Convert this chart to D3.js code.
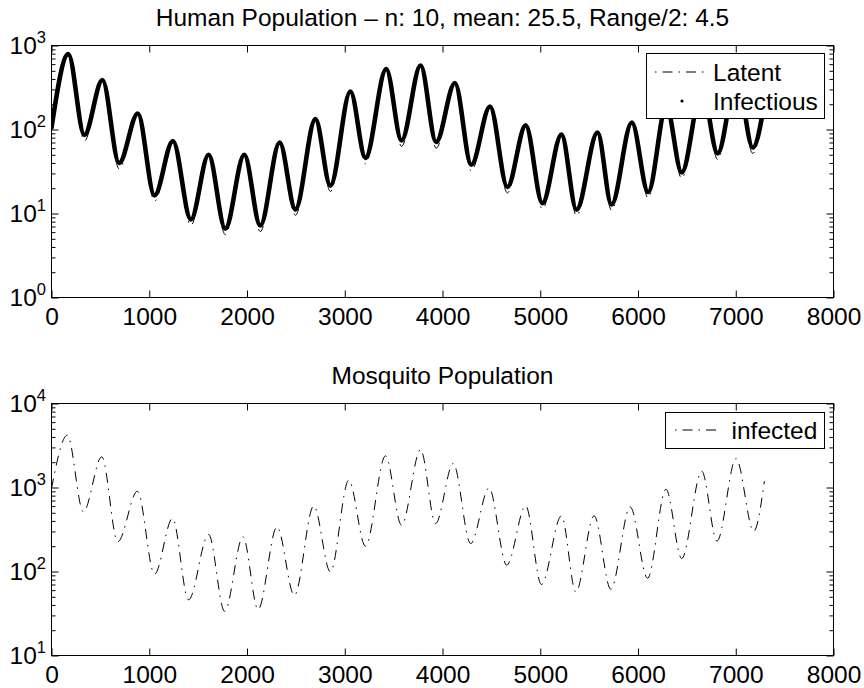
<!DOCTYPE html>
<html>
<head>
<meta charset="utf-8">
<script src="https://cdn.jsdelivr.net/npm/d3@7"></script>
<style>
  html, body { margin: 0; padding: 0; background: #fff; }
  svg { display: block; }
  text { font-family: "Liberation Sans", Arial, Helvetica, sans-serif; fill: #000; }
</style>
</head>
<body>
<svg id="chart" width="864" height="688"></svg>
<script>
// ---------------- data ----------------
const humanTitle = "Human Population \u2013 n: 10, mean: 25.5, Range/2: 4.5";
const mosqTitle = "Mosquito Population";

const xTicks = [0, 1000, 2000, 3000, 4000, 5000, 6000, 7000, 8000];
const humanYTicks = [1, 10, 100, 1000];
const mosqYTicks = [10, 100, 1000, 10000];

const humanLegend = ["Latent", "Infectious"];
const mosqLegend = ["infected"];

// days of successive extremes (start, peak, trough, ... , end)
const humanDays = [0, 172, 336, 521, 692, 883, 1054, 1242, 1426, 1607, 1778, 1972, 2136, 2334, 2495, 2700, 2853, 3058, 3212, 3424, 3581, 3776, 3935, 4127, 4295, 4486, 4664, 4851, 5022, 5217, 5371, 5586, 5729, 5937, 6104, 6290, 6447, 6655, 6815, 7010, 7174, 7300];
const infectious = [105, 790, 86, 388, 40, 155, 16.4, 73, 8.5, 50, 6.6, 50, 7.2, 70, 11.2, 133, 21.5, 283, 46, 525, 74, 578, 71, 358, 38, 188, 20.7, 112, 13.3, 87, 11.1, 92, 12.8, 121, 18, 190, 30.8, 305, 52, 430, 61, 230];
const latent = [100, 750, 73, 370, 34, 147, 14, 69, 7.2, 47.5, 5.6, 47.5, 6.1, 66.5, 9.5, 126, 18.3, 269, 39, 499, 63, 549, 60, 340, 32, 179, 17.6, 106, 11.3, 83, 9.4, 87, 10.9, 115, 15.3, 180, 26.2, 290, 44, 410, 52, 215];

const mosqDays = [0, 162, 326, 514, 678, 879, 1054, 1238, 1402, 1607, 1771, 1959, 2113, 2307, 2485, 2683, 2853, 3041, 3212, 3417, 3581, 3776, 3929, 4110, 4288, 4476, 4657, 4851, 5012, 5217, 5364, 5551, 5722, 5920, 6098, 6286, 6447, 6652, 6808, 7003, 7184, 7293];
const infected = [970, 4200, 514, 2318, 226, 903, 93, 428, 46, 276, 33.6, 259, 35.3, 340, 52, 605, 99, 1222, 200, 2384, 356, 2830, 372, 1932, 215, 990, 119, 605, 70, 460, 57, 460, 61.5, 589, 83, 955, 143, 1563, 230, 2213, 302, 1190];

// ---------------- layout ----------------
const svg = d3.select("#chart");
const FS = 24.5, SUP = 16.5;
const DASHDOT = "10,6,1.5,6";

const x = d3.scaleLinear().domain([0, 8000]).range([51.5, 833.5]);
const yTop = d3.scaleLog().domain([1, 1000]).range([297.5, 45.5]);
const yBot = d3.scaleLog().domain([10, 10000]).range([655.5, 403.5]);

function minorTicks(decades) {
  const out = [];
  for (let i = 0; i < decades.length - 1; i++)
    for (let m = 2; m <= 9; m++) out.push(decades[i] * m);
  return out;
}

function panel(y, yTicks, title, titleY, id) {
  const g = svg.append("g");
  const [x0, x1] = x.range();
  const [yb, yt] = y.range();

  g.append("clipPath").attr("id", id).append("rect")
    .attr("x", x0).attr("y", yt).attr("width", x1 - x0).attr("height", yb - yt);

  const xb = g.append("g").attr("transform", `translate(0,${yb})`)
    .call(d3.axisBottom(x).tickValues(xTicks).tickSize(-7).tickPadding(10.5).tickFormat(d3.format("d")));
  const xt = g.append("g").attr("transform", `translate(0,${yt})`)
    .call(d3.axisTop(x).tickValues(xTicks).tickSize(-7).tickFormat(""));
  const yl = g.append("g").attr("transform", `translate(${x0},0)`)
    .call(d3.axisLeft(y).tickValues(yTicks).tickSize(-7).tickFormat(""));
  const ylm = g.append("g").attr("transform", `translate(${x0},0)`)
    .call(d3.axisLeft(y).tickValues(minorTicks(yTicks)).tickSize(-4).tickFormat(""));
  const yr = g.append("g").attr("transform", `translate(${x1},0)`)
    .call(d3.axisRight(y).tickValues(yTicks).tickSize(-7).tickFormat(""));
  const yrm = g.append("g").attr("transform", `translate(${x1},0)`)
    .call(d3.axisRight(y).tickValues(minorTicks(yTicks)).tickSize(-4).tickFormat(""));
  [xb, xt, yl, ylm, yr, yrm].forEach(a => {
    a.select(".domain").remove();
    a.selectAll("line").attr("stroke", "#000").attr("stroke-width", 1);
  });
  xb.selectAll("text").attr("font-size", FS).attr("font-family", null).attr("fill", "#000");

  yTicks.forEach(v => {
    const t = g.append("text").attr("x", 46).attr("y", y(v) + 8.5)
      .attr("text-anchor", "end").attr("font-size", FS);
    t.append("tspan").text("10");
    t.append("tspan").attr("font-size", SUP).attr("dy", -11.5).text(String(Math.round(Math.log10(v))));
  });

  g.append("rect").attr("x", x0).attr("y", yt).attr("width", x1 - x0).attr("height", yb - yt)
    .attr("fill", "none").attr("stroke", "#000").attr("stroke-width", 1);

  g.append("text").attr("x", (x0 + x1) / 2).attr("y", titleY)
    .attr("text-anchor", "middle").attr("font-size", FS).text(title);

  return g;
}

function series(days, vals, y) {
  return d3.line()
    .x((d, i) => x(days[i]))
    .y(d => y(d))
    .curve(d3.curveMonotoneX)(vals);
}

// ---------------- top panel ----------------
const gTop = panel(yTop, humanYTicks, humanTitle, 26, "clipTop");
const topLines = gTop.append("g").attr("clip-path", "url(#clipTop)");
topLines.append("path").attr("d", series(humanDays, latent, yTop))
  .attr("fill", "none").attr("stroke", "#000").attr("stroke-width", 1)
  .attr("stroke-dasharray", DASHDOT);
topLines.append("path").attr("d", series(humanDays, infectious, yTop))
  .attr("fill", "none").attr("stroke", "#000").attr("stroke-width", 4.6)
  .attr("stroke-linejoin", "round").attr("stroke-linecap", "round");

const lgT = gTop.append("g");
lgT.append("rect").attr("x", 646.5).attr("y", 53.5).attr("width", 178).attr("height", 65)
  .attr("fill", "#fff").attr("stroke", "#000").attr("stroke-width", 1);
lgT.append("line").attr("x1", 655).attr("x2", 705).attr("y1", 72).attr("y2", 72)
  .attr("stroke", "#000").attr("stroke-width", 1).attr("stroke-dasharray", "1.5,6,10,6");
lgT.append("circle").attr("cx", 682).attr("cy", 101).attr("r", 1.6).attr("fill", "#000");
lgT.append("text").attr("x", 713).attr("y", 81).attr("font-size", FS).text(humanLegend[0]);
lgT.append("text").attr("x", 713).attr("y", 110).attr("font-size", FS).text(humanLegend[1]);

// ---------------- bottom panel ----------------
const gBot = panel(yBot, mosqYTicks, mosqTitle, 384, "clipBot");
const botLines = gBot.append("g").attr("clip-path", "url(#clipBot)");
botLines.append("path").attr("d", series(mosqDays, infected, yBot))
  .attr("fill", "none").attr("stroke", "#000").attr("stroke-width", 1)
  .attr("stroke-dasharray", DASHDOT);

const lgB = gBot.append("g");
lgB.append("rect").attr("x", 665.5).attr("y", 412.5).attr("width", 159).attr("height", 36)
  .attr("fill", "#fff").attr("stroke", "#000").attr("stroke-width", 1);
lgB.append("line").attr("x1", 675).attr("x2", 717).attr("y1", 430).attr("y2", 430)
  .attr("stroke", "#000").attr("stroke-width", 1).attr("stroke-dasharray", "1.5,6,10,6");
lgB.append("text").attr("x", 731.5).attr("y", 439).attr("font-size", FS).text(mosqLegend[0]);
</script>
</body>
</html>
